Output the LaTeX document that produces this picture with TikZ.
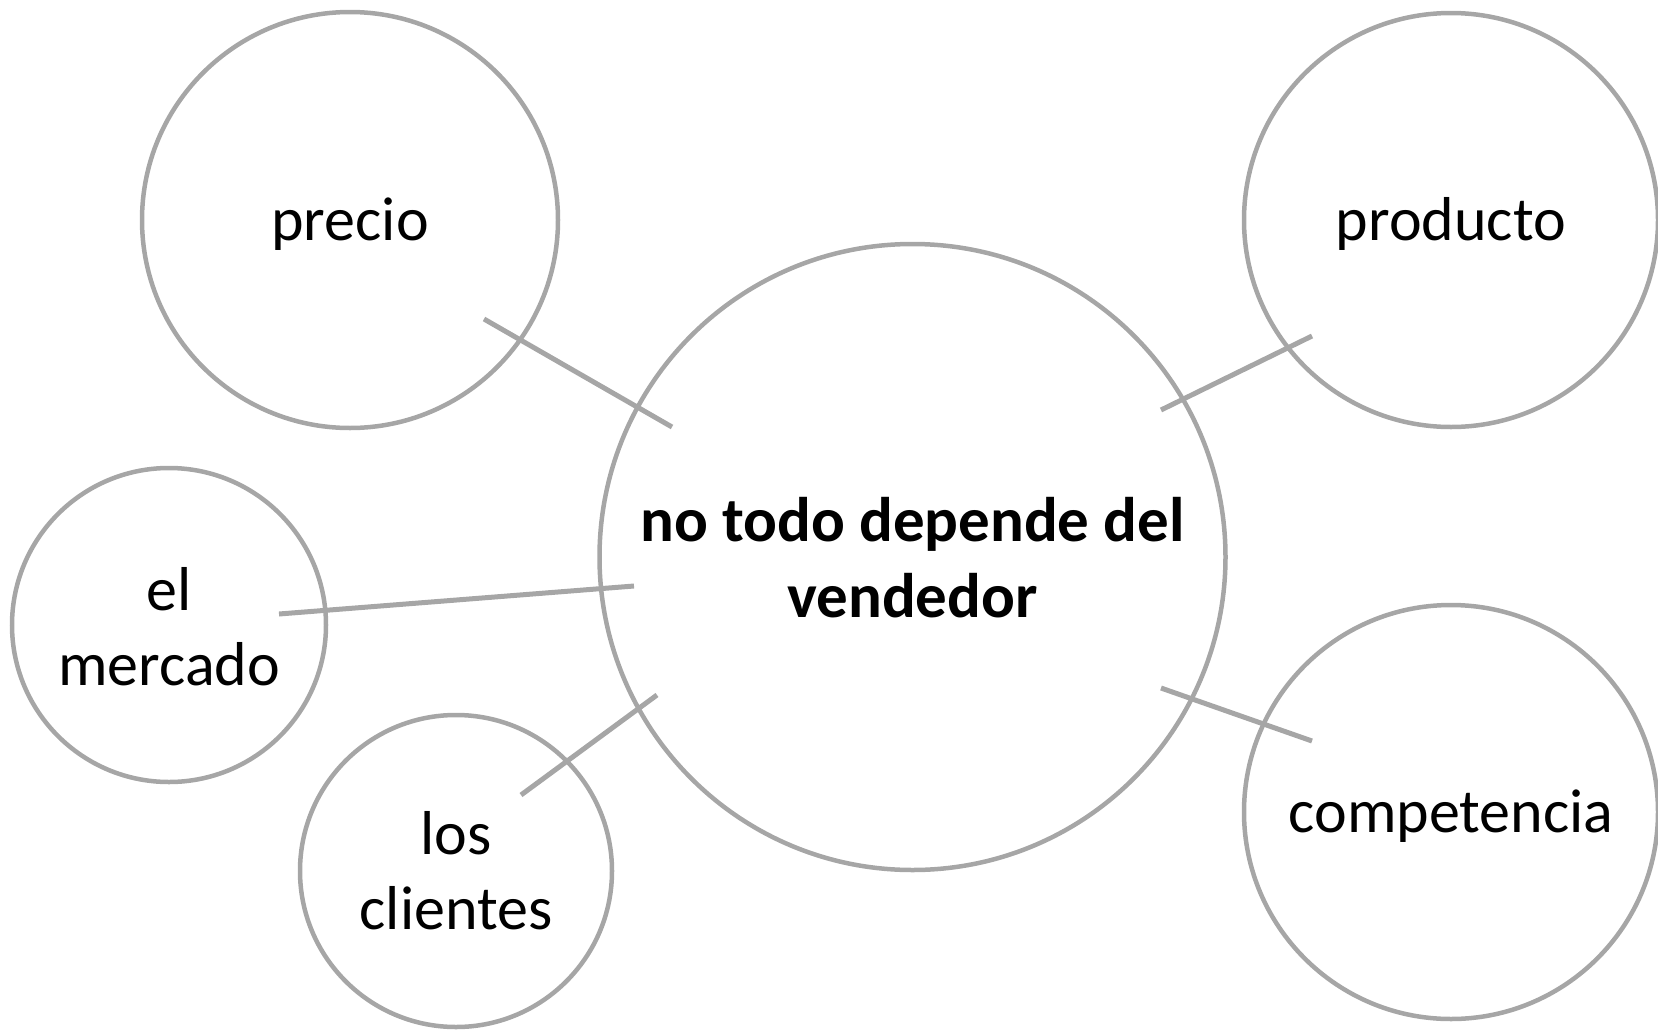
\documentclass[tikz,border=0pt]{standalone}
\usepackage{fontspec}
\setmainfont{Carlito}
\definecolor{ringgrey}{HTML}{A6A6A6}
\begin{document}
\begin{tikzpicture}[x=1pt,y=-1pt,
  ring/.style={circle,draw=ringgrey,line width=4.5pt,inner sep=0pt},
  txt/.style={align=center,font=\fontsize{62}{75}\selectfont},
  link/.style={draw=ringgrey,line width=5pt}]
\useasboundingbox (0,0) rectangle (1658,1031);
\node[ring,minimum size=416pt] (precio) at (350,220) {};
\node[txt] (ptext) at (350,224) {precio};
\node[ring,minimum size=414pt] (producto) at (1451,220) {};
\node[txt] (prtext) at (1451,224) {producto};
\node[ring,minimum size=626pt] (center) at (912.5,557) {};
\node (ctext) at (912.5,564) {\fontsize{63}{76}\selectfont\bfseries\begin{tabular}{@{}c@{}}no todo depende del\\vendedor\end{tabular}};
\node[ring,minimum size=314pt] (mercado) at (169,625) {};
\node (mtext) at (169,633) {\fontsize{62}{75}\selectfont\begin{tabular}{@{}c@{}}el\\mercado\end{tabular}};
\node[ring,minimum size=312pt] (clientes) at (456,871) {};
\node (ctx) at (456,877) {\fontsize{62}{75}\selectfont\begin{tabular}{@{}c@{}}los\\clientes\end{tabular}};
\node[ring,minimum size=414pt] (competencia) at (1451,812) {};
\node[txt] (cotext) at (1451,816) {competencia};
\coordinate (a1) at (484,319); \coordinate (a2) at (672,427);
\coordinate (b1) at (1161,410); \coordinate (b2) at (1312,336);
\coordinate (c1) at (279,614); \coordinate (c2) at (634,586);
\coordinate (d1) at (521,795); \coordinate (d2) at (657,695);
\coordinate (e1) at (1161,688); \coordinate (e2) at (1312,741);
\draw[link] (a1) -- (a2);
\draw[link] (b1) -- (b2);
\draw[link] (c1) -- (c2);
\draw[link] (d1) -- (d2);
\draw[link] (e1) -- (e2);
\end{tikzpicture}
\end{document}
